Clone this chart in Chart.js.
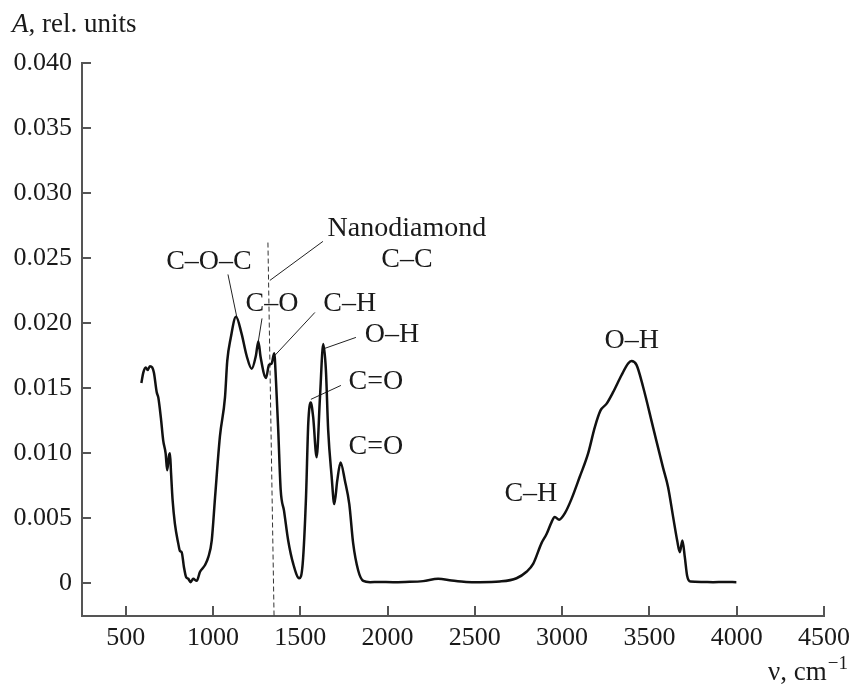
<!DOCTYPE html>
<html>
<head>
<meta charset="utf-8">
<script src="https://cdn.jsdelivr.net/npm/chart.js@4/dist/chart.umd.min.js"></script>
<style>
  html, body { margin: 0; padding: 0; background: #fff; }
  #wrap { width: 849px; height: 684px; }
</style>
</head>
<body>
<div id="wrap"><canvas id="ir"></canvas></div>
<script>
// ── Spectrum data ───────────────────────────────────────────────
const wavenumber = [
  590, 601, 615, 626, 639, 652, 662, 678, 687, 702,
  715, 729, 738, 748, 754, 760, 769, 782, 801, 811,
  821, 834, 846, 859, 872, 887, 907, 926, 954, 973,
  993, 1012, 1040, 1069, 1082, 1101, 1132, 1164, 1193, 1222,
  1246, 1260, 1273, 1304, 1321, 1336, 1351, 1361, 1374, 1388,
  1407, 1431, 1460, 1494, 1514, 1533, 1546, 1560, 1574, 1594,
  1613, 1632, 1647, 1660, 1680, 1695, 1712, 1731, 1756, 1781,
  1803, 1832, 1861, 1900, 1950, 2032, 2100, 2204, 2290, 2367,
  2450, 2529, 2643, 2739, 2796, 2834, 2882, 2911, 2939, 2958,
  2983, 3016, 3054, 3101, 3149, 3187, 3220, 3254, 3292, 3340,
  3378, 3397, 3426, 3464, 3521, 3578, 3607, 3636, 3659, 3674,
  3689, 3703, 3716, 3735, 3800, 3865, 3930, 3998
];
const absorbance = [
  0.0154, 0.0162, 0.0166, 0.0164, 0.0167, 0.0166, 0.0162, 0.0147, 0.0143, 0.0127,
  0.0110, 0.0100, 0.0087, 0.0098, 0.0100, 0.0085, 0.0064, 0.0046, 0.0031, 0.0025,
  0.0024, 0.00125, 0.0005, 0.00036, 0.0001, 0.00036, 0.0002, 0.0009, 0.0014, 0.0020,
  0.0033, 0.0066, 0.0113, 0.0143, 0.0171, 0.0188, 0.0205, 0.0192, 0.0175, 0.0165,
  0.0175, 0.0186, 0.0174, 0.0158, 0.0168, 0.0169, 0.0177, 0.0156, 0.0118, 0.0072,
  0.0056, 0.0033, 0.0015, 0.0004, 0.0015, 0.0066, 0.0123, 0.0139, 0.0128, 0.0097,
  0.0143, 0.0184, 0.0164, 0.0118, 0.0082, 0.0061, 0.0079, 0.0093, 0.0079, 0.0061,
  0.0031, 0.0010, 0.0002, 0.0001, 0.00012, 0.0001, 0.00012, 0.00018, 0.00036, 0.00023,
  0.00012, 0.0001, 0.00015, 0.0004, 0.0009, 0.0015, 0.0031, 0.0038, 0.0047, 0.0051,
  0.0049, 0.0054, 0.0065, 0.0082, 0.0100, 0.0120, 0.0133, 0.0138, 0.0147, 0.0160,
  0.0169, 0.0171, 0.0168, 0.0151, 0.0120, 0.0089, 0.0074, 0.0051, 0.0033, 0.0024,
  0.0033, 0.0020, 0.0006, 0.00015, 0.00012, 0.0001, 0.00012, 0.0001
];

const xTicks = [500, 1000, 1500, 2000, 2500, 3000, 3500, 4000, 4500];
const yTicks = [0, 0.005, 0.010, 0.015, 0.020, 0.025, 0.030, 0.035, 0.040];
const yTickText = ['0', '0.005', '0.010', '0.015', '0.020', '0.025', '0.030', '0.035', '0.040'];

// nanodiamond C–C reference line (dashed)
const diamondLine = [{ x: 1315, y: 0.0262 }, { x: 1350, y: -0.0025 }];

// band labels: text, wavenumber, absorbance of the label centre
const bandLabels = [
  ['Nanodiamond', 2111, 0.0273],
  ['C–C',         2111, 0.0249],
  ['C–O–C',        977, 0.0247],
  ['C–O',         1338, 0.0215],
  ['C–H',         1784, 0.0215],
  ['O–H',         2025, 0.0191],
  ['C=O',         1933, 0.0155],
  ['C=O',         1933, 0.0105],
  ['C–H',         2821, 0.0069],
  ['O–H',         3399, 0.0187]
];

// thin leader lines from labels to their peaks
const leaders = [
  [[1086, 0.02375], [1137, 0.02045]],
  [[1281, 0.02037], [1258, 0.01845]],
  [[1584, 0.02083], [1355, 0.01753]],
  [[1630, 0.02629], [1326, 0.02329]],
  [[1819, 0.01891], [1641, 0.01807]],
  [[1733, 0.01522], [1561, 0.01415]]
];

const serif = '"Liberation Serif", "DejaVu Serif", serif';
const ink = '#1a1a1a';
const axisGray = '#555';

// ── Inward ticks, band labels and axis titles ──────────────────
const decorations = {
  id: 'decorations',
  afterDatasetsDraw(chart) {
    const { ctx, chartArea: a, scales: { x, y } } = chart;
    ctx.save();
    ctx.strokeStyle = axisGray;
    ctx.lineWidth = 2;
    x.ticks.forEach(t => {
      const px = Math.round(x.getPixelForValue(t.value));
      ctx.beginPath(); ctx.moveTo(px, a.bottom); ctx.lineTo(px, a.bottom - 10); ctx.stroke();
    });
    y.ticks.forEach(t => {
      const py = Math.round(y.getPixelForValue(t.value));
      ctx.beginPath(); ctx.moveTo(a.left, py); ctx.lineTo(a.left + 9, py); ctx.stroke();
    });

    ctx.fillStyle = ink;
    ctx.font = '28px ' + serif;
    ctx.textAlign = 'center';
    ctx.textBaseline = 'middle';
    bandLabels.forEach(([txt, v, A]) => {
      ctx.fillText(txt, x.getPixelForValue(v), y.getPixelForValue(A));
    });

    // y title: "A, rel. units"
    ctx.textAlign = 'left';
    ctx.textBaseline = 'alphabetic';
    ctx.font = 'italic 27px ' + serif;
    ctx.fillText('A', 12, 32);
    const aw = ctx.measureText('A').width;
    ctx.font = '27px ' + serif;
    ctx.fillText(', rel. units', 12 + aw, 32);

    // x title: "ν, cm−1"
    ctx.font = '19px ' + serif;
    const supW = ctx.measureText('−1').width;
    ctx.textAlign = 'right';
    ctx.fillText('−1', 848, 669);
    ctx.font = '27px ' + serif;
    ctx.fillText('ν, cm', 848 - supW - 1, 680);
    ctx.restore();
  }
};

const leaderSets = leaders.map(seg => ({
  data: seg.map(([v, A]) => ({ x: v, y: A })),
  borderColor: '#222',
  borderWidth: 1,
  pointRadius: 0,
  tension: 0
}));

new Chart(document.getElementById('ir'), {
  type: 'line',
  data: {
    datasets: [
      {
        data: wavenumber.map((v, i) => ({ x: v, y: absorbance[i] })),
        borderColor: '#111',
        borderWidth: 2.5,
        pointRadius: 0,
        cubicInterpolationMode: 'monotone'
      },
      {
        data: diamondLine,
        borderColor: '#333',
        borderWidth: 1,
        borderDash: [5, 3],
        pointRadius: 0,
        tension: 0
      },
      ...leaderSets
    ]
  },
  options: {
    responsive: true,
    maintainAspectRatio: false,
    animation: false,
    events: [],
    layout: { padding: { top: 63, right: 25, left: 0, bottom: 0 } },
    plugins: { legend: { display: false }, tooltip: { enabled: false } },
    scales: {
      x: {
        type: 'linear',
        min: 250, max: 4500,
        afterBuildTicks: s => { s.ticks = xTicks.map(v => ({ value: v })); },
        afterFit: s => { s.height = 68; s.paddingLeft = 0; s.paddingRight = 0; },
        grid: { display: false, drawTicks: false },
        border: { display: true, color: axisGray, width: 2 },
        ticks: {
          color: ink, padding: 7, font: { family: serif, size: 26 }, maxRotation: 0, autoSkip: false,
          callback: v => String(v)
        }
      },
      y: {
        type: 'linear',
        min: -0.0025, max: 0.040,
        afterBuildTicks: s => { s.ticks = yTicks.map(v => ({ value: v })); },
        afterFit: s => { s.width = 82; s.paddingTop = 0; s.paddingBottom = 0; },
        grid: { display: false, drawTicks: false },
        border: { display: true, color: axisGray, width: 2 },
        ticks: {
          color: ink, padding: 10, font: { family: serif, size: 26 },
          callback: v => yTickText[yTicks.indexOf(v)] ?? ''
        }
      }
    }
  },
  plugins: [decorations]
});
</script>
</body>
</html>
